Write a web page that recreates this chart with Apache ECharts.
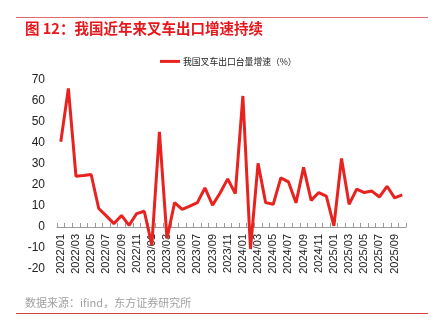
<!DOCTYPE html>
<html>
<head>
<meta charset="utf-8">
<script src="https://cdn.jsdelivr.net/npm/echarts@6/dist/echarts.min.js"></script>
<style>
  html, body { margin: 0; padding: 0; background: #fff; }
  #chart { width: 434px; height: 328px; }
</style>
</head>
<body>
<div id="chart"></div>
<script>
// Monthly forklift export unit growth, YoY (%)
const months = [
  '2022/01','2022/02','2022/03','2022/04','2022/05','2022/06','2022/07','2022/08','2022/09','2022/10','2022/11','2022/12',
  '2023/01','2023/02','2023/03','2023/04','2023/05','2023/06','2023/07','2023/08','2023/09','2023/10','2023/11','2023/12',
  '2024/01','2024/02','2024/03','2024/04','2024/05','2024/06','2024/07','2024/08','2024/09','2024/10','2024/11','2024/12',
  '2025/01','2025/02','2025/03','2025/04','2025/05','2025/06','2025/07','2025/08','2025/09','2025/10'
];
const exportGrowth = [
  40.6, 66.0, 24.2, 24.5, 25.0, 8.8, 5.3, 1.6, 5.5, 0.8, 6.4, 7.5,
  -8.5, 45.3, -5.5, 11.6, 8.4, 9.9, 11.6, 18.6, 10.4, 16.2, 22.9, 15.9,
  62.4, -10.5, 30.3, 11.6, 10.8, 23.4, 21.5, 11.5, 28.4, 12.7, 16.4, 14.7,
  0.5, 32.6, 10.8, 18.0, 16.4, 17.1, 14.3, 19.4, 13.9, 15.3
];
const yMin = -20;
const yMax = 70;
const yStep = 10;
const seriesName = '我国叉车出口台量增速（%）';
const titleText = '图 12：我国近年来叉车出口增速持续';
const sourceText = '数据来源：ifind，东方证券研究所';

const gridTop = 80;
const gridHeight = 189;
// place the category axis on the zero line of the value axis
const zeroOffset = -Math.round(gridHeight * (0 - yMin) / (yMax - yMin));

const chart = echarts.init(document.getElementById('chart'), null, { renderer: 'canvas' });
const latin = '"Liberation Sans", Arial, sans-serif';
const cjk = '"Noto Sans CJK SC", sans-serif';

chart.setOption({
  animation: false,
  backgroundColor: '#fff',
  graphic: [
    { type: 'line', shape: { x1: 16, y1: 17.5, x2: 428, y2: 17.5 }, style: { stroke: '#e46a6a', lineWidth: 1 } },
    { type: 'text', left: 25, top: 21, style: { text: titleText, fill: '#e8161b', font: 'bold 14.5px ' + cjk } },
    { type: 'text', left: 25, top: 297, style: { text: sourceText, fill: '#a0a0a0', font: '11px ' + cjk } },
    { type: 'line', shape: { x1: 16, y1: 313.5, x2: 428, y2: 313.5 }, style: { stroke: '#d94040', lineWidth: 1 } }
  ],
  legend: {
    top: 52,
    left: 155,
    itemWidth: 20,
    itemHeight: 3,
    itemGap: 4,
    icon: 'rect',
    textStyle: { fontSize: 8.8, color: '#222', fontFamily: cjk, padding: [0, 0, 0, -2] },
    data: [seriesName]
  },
  grid: { left: 57, right: 28, top: gridTop, height: gridHeight, containLabel: false },
  xAxis: {
    type: 'category',
    data: months,
    boundaryGap: true,
    offset: zeroOffset,
    axisLine: { onZero: false, lineStyle: { color: '#9a9a9a', width: 1 } },
    axisTick: { show: true, inside: true, length: 4, interval: 0, lineStyle: { color: '#9a9a9a' } },
    axisLabel: { interval: 1, rotate: 90, fontSize: 11, color: '#222', margin: 7, fontFamily: latin },
    splitLine: { show: false }
  },
  yAxis: {
    type: 'value',
    min: yMin,
    max: yMax,
    interval: yStep,
    axisLine: { show: false },
    axisTick: { show: false },
    splitLine: { show: false },
    axisLabel: { fontSize: 12, color: '#222', margin: 12, fontFamily: latin }
  },
  series: [{
    name: seriesName,
    type: 'line',
    data: exportGrowth,
    symbol: 'none',
    lineStyle: { color: '#e8221f', width: 3 },
    itemStyle: { color: '#e8221f' },
    z: 5
  }]
});
</script>
</body>
</html>
